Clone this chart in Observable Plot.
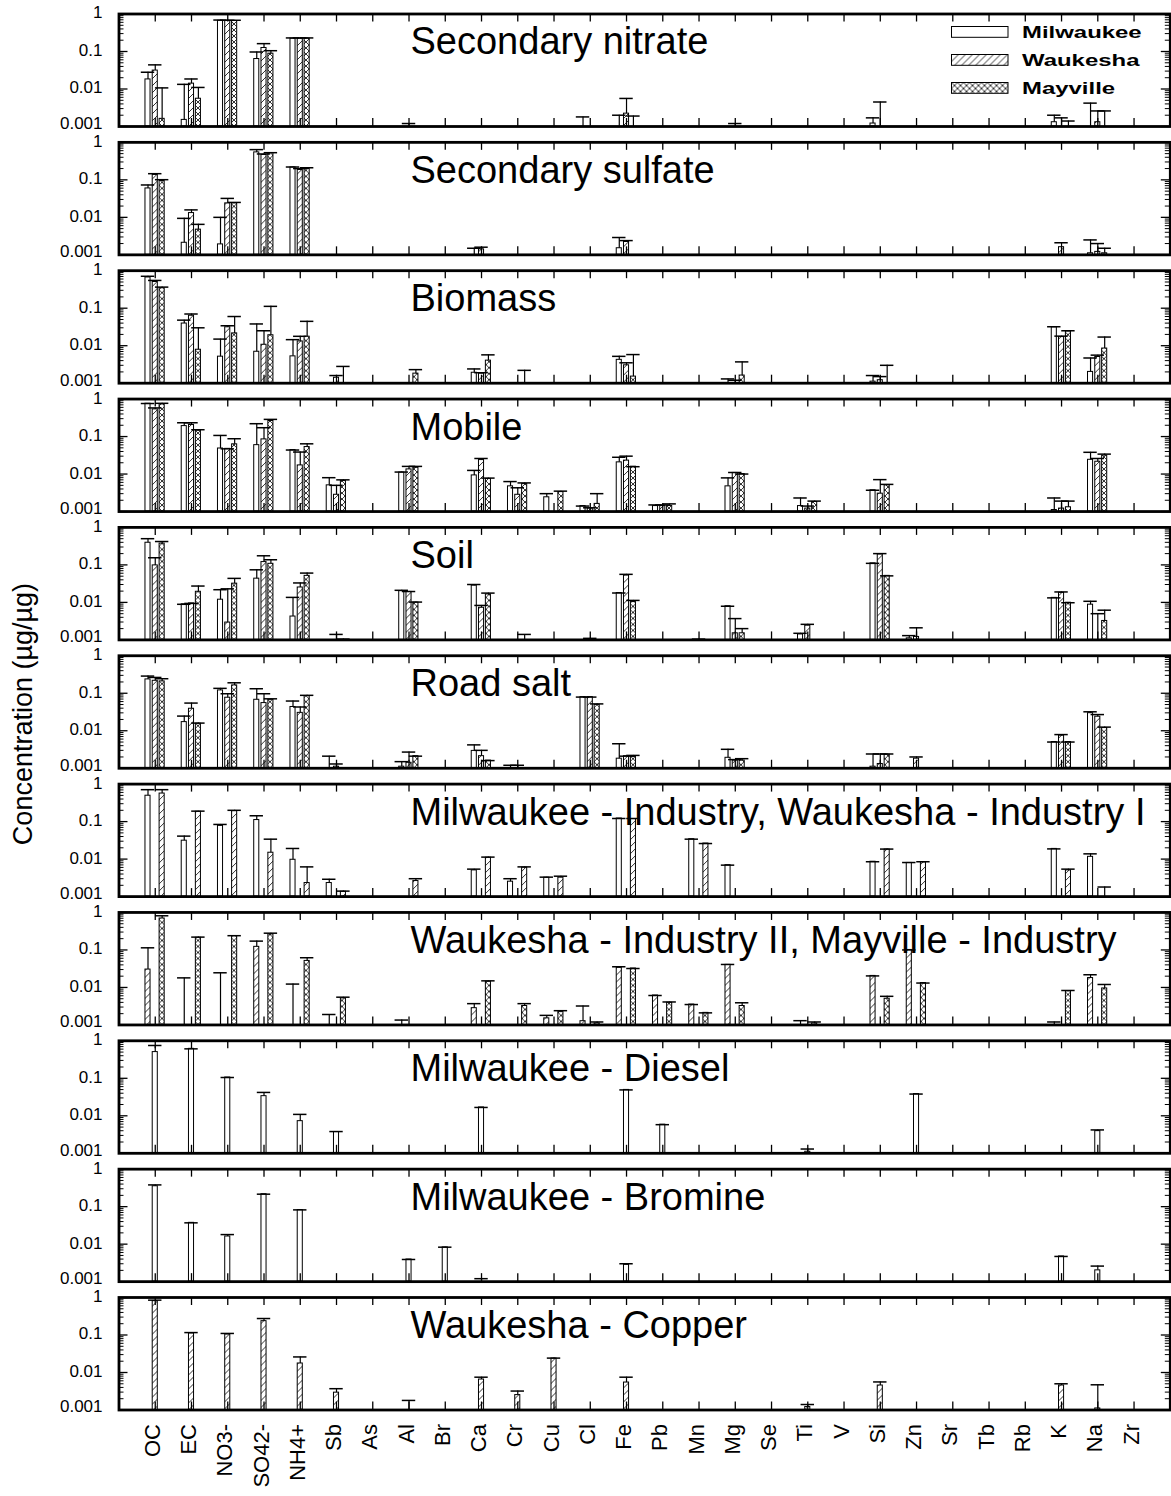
<!DOCTYPE html>
<html>
<head>
<meta charset="utf-8">
<script src="https://cdn.jsdelivr.net/npm/d3@7"></script>
<script src="https://cdn.jsdelivr.net/npm/@observablehq/plot@0.6"></script>
<style>
  html, body { margin: 0; padding: 0; background: #fff; overflow: hidden; }
  #chart { width: 1171px; height: 1496px; }
</style>
</head>
<body>
<div id="chart"></div>
<script>
// Species on the x axis
const categories = ["OC", "EC", "NO3-", "SO42-", "NH4+", "Sb", "As", "Al", "Br", "Ca", "Cr", "Cu", "Cl", "Fe",
  "Pb", "Mn", "Mg", "Se", "Ti", "V", "Si", "Zn", "Sr", "Tb", "Rb", "K", "Na", "Zr"];

// Sampling sites
const sites = ["Milwaukee", "Waukesha", "Mayville"];

// Log-axis decades
const majorTicks = [0.001, 0.01, 0.1, 1];

// Factor profiles: [species, site, mean fraction, mean + uncertainty]
const secondaryNitrate = [
  ["OC", "Milwaukee", 0.018, 0.028], ["OC", "Waukesha", 0.031, 0.044], ["OC", "Mayville", 0.0016, 0.0107],
  ["EC", "Milwaukee", 0.0015, 0.0133], ["EC", "Waukesha", 0.0139, 0.0185], ["EC", "Mayville", 0.0055, 0.011],
  ["NO3-", "Milwaukee", 0.66, 0.69], ["NO3-", "Waukesha", 0.65, 0.68], ["NO3-", "Mayville", 0.65, 0.68],
  ["SO42-", "Milwaukee", 0.063, 0.097], ["SO42-", "Waukesha", 0.124, 0.162], ["SO42-", "Mayville", 0.0875, 0.105],
  ["NH4+", "Milwaukee", 0.22, 0.23], ["NH4+", "Waukesha", 0.22, 0.23], ["NH4+", "Mayville", 0.22, 0.23],
  ["Al", "Waukesha", 0.001, 0.0012],
  ["Cl", "Milwaukee", 0.001, 0.0018],
  ["Fe", "Milwaukee", 0.001, 0.002], ["Fe", "Waukesha", 0.0022, 0.0056], ["Fe", "Mayville", 0.001, 0.0019],
  ["Mg", "Waukesha", 0.001, 0.0012],
  ["Si", "Milwaukee", 0.0012, 0.0017], ["Si", "Waukesha", 0.001, 0.0045],
  ["K", "Milwaukee", 0.0013, 0.002], ["K", "Waukesha", 0.001, 0.0017], ["K", "Mayville", 0.001, 0.0014],
  ["Na", "Milwaukee", 0.001, 0.0042], ["Na", "Waukesha", 0.0013, 0.0026], ["Na", "Mayville", 0.001, 0.0026]
];

const secondarySulfate = [
  ["OC", "Milwaukee", 0.059, 0.073], ["OC", "Waukesha", 0.135, 0.146], ["OC", "Mayville", 0.093, 0.101],
  ["EC", "Milwaukee", 0.0021, 0.0094], ["EC", "Waukesha", 0.013, 0.0158], ["EC", "Mayville", 0.0047, 0.0065],
  ["NO3-", "Milwaukee", 0.0019, 0.01], ["NO3-", "Waukesha", 0.0236, 0.032], ["NO3-", "Mayville", 0.0236, 0.025],
  ["SO42-", "Milwaukee", 0.54, 0.64], ["SO42-", "Waukesha", 0.46, 0.49], ["SO42-", "Mayville", 0.52, 0.53],
  ["NH4+", "Milwaukee", 0.215, 0.22], ["NH4+", "Waukesha", 0.183, 0.2], ["NH4+", "Mayville", 0.195, 0.21],
  ["Ca", "Milwaukee", 0.001, 0.0015], ["Ca", "Waukesha", 0.0014, 0.0016],
  ["Fe", "Milwaukee", 0.0015, 0.0029], ["Fe", "Waukesha", 0.0022, 0.0024],
  ["K", "Waukesha", 0.0016, 0.0021],
  ["Na", "Milwaukee", 0.0011, 0.0025], ["Na", "Waukesha", 0.0012, 0.002], ["Na", "Mayville", 0.0011, 0.0015]
];

const biomass = [
  ["OC", "Milwaukee", 0.66, 0.71], ["OC", "Waukesha", 0.5, 0.55], ["OC", "Mayville", 0.34, 0.365],
  ["EC", "Milwaukee", 0.039, 0.048], ["EC", "Waukesha", 0.063, 0.07], ["EC", "Mayville", 0.0078, 0.03],
  ["NO3-", "Milwaukee", 0.0051, 0.015], ["NO3-", "Waukesha", 0.031, 0.034], ["NO3-", "Mayville", 0.0213, 0.06],
  ["SO42-", "Milwaukee", 0.0069, 0.038], ["SO42-", "Waukesha", 0.0106, 0.025], ["SO42-", "Mayville", 0.019, 0.112],
  ["NH4+", "Milwaukee", 0.0052, 0.0145], ["NH4+", "Waukesha", 0.013, 0.0178], ["NH4+", "Mayville", 0.0174, 0.0446],
  ["Sb", "Waukesha", 0.0014, 0.0016], ["Sb", "Mayville", 0.001, 0.0028],
  ["Al", "Mayville", 0.0018, 0.0023],
  ["Ca", "Milwaukee", 0.0019, 0.0024], ["Ca", "Waukesha", 0.0018, 0.0019], ["Ca", "Mayville", 0.004, 0.0057],
  ["Cr", "Mayville", 0.001, 0.0022],
  ["Fe", "Milwaukee", 0.0042, 0.0052], ["Fe", "Waukesha", 0.003, 0.0035], ["Fe", "Mayville", 0.0015, 0.0058],
  ["Mg", "Milwaukee", 0.001, 0.0013], ["Mg", "Waukesha", 0.001, 0.0012], ["Mg", "Mayville", 0.0016, 0.0037],
  ["Si", "Milwaukee", 0.0011, 0.0016], ["Si", "Waukesha", 0.0012, 0.0015], ["Si", "Mayville", 0.001, 0.003],
  ["K", "Milwaukee", 0.031, 0.032], ["K", "Waukesha", 0.017, 0.018], ["K", "Mayville", 0.024, 0.025],
  ["Na", "Milwaukee", 0.002, 0.0047], ["Na", "Waukesha", 0.005, 0.0056], ["Na", "Mayville", 0.0084, 0.017]
];

const mobile = [
  ["OC", "Milwaukee", 0.75, 0.76], ["OC", "Waukesha", 0.53, 0.58], ["OC", "Mayville", 0.72, 0.77],
  ["EC", "Milwaukee", 0.19, 0.233], ["EC", "Waukesha", 0.203, 0.233], ["EC", "Mayville", 0.143, 0.152],
  ["NO3-", "Milwaukee", 0.048, 0.107], ["NO3-", "Waukesha", 0.047, 0.047], ["NO3-", "Mayville", 0.062, 0.0875],
  ["SO42-", "Milwaukee", 0.059, 0.22], ["SO42-", "Waukesha", 0.084, 0.172], ["SO42-", "Mayville", 0.26, 0.287],
  ["NH4+", "Milwaukee", 0.0437, 0.0437], ["NH4+", "Waukesha", 0.017, 0.0386], ["NH4+", "Mayville", 0.0525, 0.064],
  ["Sb", "Milwaukee", 0.005, 0.008], ["Sb", "Waukesha", 0.0028, 0.005], ["Sb", "Mayville", 0.0065, 0.007],
  ["Al", "Milwaukee", 0.011, 0.0113], ["Al", "Waukesha", 0.0133, 0.016], ["Al", "Mayville", 0.0147, 0.016],
  ["Ca", "Milwaukee", 0.0092, 0.0125], ["Ca", "Waukesha", 0.0236, 0.026], ["Ca", "Mayville", 0.0074, 0.0078],
  ["Cr", "Milwaukee", 0.0047, 0.0063], ["Cr", "Waukesha", 0.0028, 0.0043], ["Cr", "Mayville", 0.0054, 0.0058],
  ["Cu", "Milwaukee", 0.0024, 0.003], ["Cu", "Mayville", 0.0033, 0.0035],
  ["Cl", "Milwaukee", 0.0014, 0.0014], ["Cl", "Waukesha", 0.0012, 0.00126], ["Cl", "Mayville", 0.0016, 0.003],
  ["Fe", "Milwaukee", 0.0205, 0.028], ["Fe", "Waukesha", 0.0228, 0.03], ["Fe", "Mayville", 0.0157, 0.0157],
  ["Pb", "Milwaukee", 0.0014, 0.0015], ["Pb", "Waukesha", 0.0014, 0.0015], ["Pb", "Mayville", 0.0014, 0.0016],
  ["Mg", "Milwaukee", 0.0047, 0.0079], ["Mg", "Waukesha", 0.0107, 0.011], ["Mg", "Mayville", 0.01, 0.01],
  ["Ti", "Milwaukee", 0.0014, 0.0023], ["Ti", "Waukesha", 0.0012, 0.0014], ["Ti", "Mayville", 0.0018, 0.0019],
  ["Si", "Milwaukee", 0.0037, 0.0037], ["Si", "Waukesha", 0.003, 0.0071], ["Si", "Mayville", 0.005, 0.0053],
  ["K", "Milwaukee", 0.0011, 0.0023], ["K", "Waukesha", 0.0012, 0.0019], ["K", "Mayville", 0.0013, 0.0019],
  ["Na", "Milwaukee", 0.024, 0.038], ["Na", "Waukesha", 0.0213, 0.026], ["Na", "Mayville", 0.031, 0.034]
];

const soil = [
  ["OC", "Milwaukee", 0.39, 0.5], ["OC", "Waukesha", 0.097, 0.155], ["OC", "Mayville", 0.37, 0.42],
  ["EC", "Milwaukee", 0.0089, 0.0089], ["EC", "Waukesha", 0.0094, 0.0094], ["EC", "Mayville", 0.0192, 0.0273],
  ["NO3-", "Milwaukee", 0.0118, 0.0218], ["NO3-", "Waukesha", 0.0029, 0.023], ["NO3-", "Mayville", 0.0316, 0.0437],
  ["SO42-", "Milwaukee", 0.043, 0.074], ["SO42-", "Waukesha", 0.119, 0.175], ["SO42-", "Mayville", 0.107, 0.137],
  ["NH4+", "Milwaukee", 0.0042, 0.0136], ["NH4+", "Waukesha", 0.025, 0.033], ["NH4+", "Mayville", 0.051, 0.0605],
  ["Sb", "Waukesha", 0.001, 0.0014], ["Sb", "Mayville", 0.001, 0.00105],
  ["Al", "Milwaukee", 0.02, 0.021], ["Al", "Waukesha", 0.019, 0.0195], ["Al", "Mayville", 0.0099, 0.0102],
  ["Ca", "Milwaukee", 0.028, 0.03], ["Ca", "Waukesha", 0.0072, 0.0083], ["Ca", "Mayville", 0.0163, 0.0177],
  ["Cr", "Mayville", 0.001, 0.0014],
  ["Cl", "Waukesha", 0.001, 0.0011],
  ["Fe", "Milwaukee", 0.0178, 0.0178], ["Fe", "Waukesha", 0.052, 0.056], ["Fe", "Mayville", 0.0102, 0.0113],
  ["Mn", "Waukesha", 0.001, 0.00105],
  ["Mg", "Milwaukee", 0.0079, 0.0079], ["Mg", "Waukesha", 0.0015, 0.0037], ["Mg", "Mayville", 0.0015, 0.002],
  ["Ti", "Milwaukee", 0.0014, 0.0015], ["Ti", "Waukesha", 0.0024, 0.0026],
  ["Si", "Milwaukee", 0.11, 0.11], ["Si", "Waukesha", 0.19, 0.2], ["Si", "Mayville", 0.051, 0.051],
  ["Zn", "Milwaukee", 0.0011, 0.0013], ["Zn", "Waukesha", 0.0012, 0.0021],
  ["K", "Milwaukee", 0.0132, 0.0132], ["K", "Waukesha", 0.018, 0.019], ["K", "Mayville", 0.0098, 0.0098],
  ["Na", "Milwaukee", 0.0087, 0.0107], ["Na", "Waukesha", 0.001, 0.005], ["Na", "Mayville", 0.0032, 0.0062]
];

const roadSalt = [
  ["OC", "Milwaukee", 0.234, 0.287], ["OC", "Waukesha", 0.215, 0.264], ["OC", "Mayville", 0.207, 0.244],
  ["EC", "Milwaukee", 0.017, 0.0246], ["EC", "Waukesha", 0.0386, 0.0547], ["EC", "Mayville", 0.0154, 0.016],
  ["NO3-", "Milwaukee", 0.119, 0.135], ["NO3-", "Waukesha", 0.076, 0.097], ["NO3-", "Mayville", 0.162, 0.19],
  ["SO42-", "Milwaukee", 0.067, 0.132], ["SO42-", "Waukesha", 0.0547, 0.097], ["SO42-", "Mayville", 0.067, 0.071],
  ["NH4+", "Milwaukee", 0.043, 0.062], ["NH4+", "Waukesha", 0.03, 0.043], ["NH4+", "Mayville", 0.084, 0.088],
  ["Sb", "Milwaukee", 0.001, 0.0021], ["Sb", "Waukesha", 0.0011, 0.0013],
  ["Al", "Milwaukee", 0.0011, 0.0015], ["Al", "Waukesha", 0.0014, 0.0027], ["Al", "Mayville", 0.0021, 0.0021],
  ["Ca", "Milwaukee", 0.0029, 0.0042], ["Ca", "Waukesha", 0.0021, 0.003], ["Ca", "Mayville", 0.0016, 0.0016],
  ["Cr", "Milwaukee", 0.001, 0.0012], ["Cr", "Waukesha", 0.001, 0.0012],
  ["Cl", "Milwaukee", 0.079, 0.079], ["Cl", "Waukesha", 0.079, 0.079], ["Cl", "Mayville", 0.049, 0.052],
  ["Fe", "Milwaukee", 0.0018, 0.0045], ["Fe", "Waukesha", 0.0021, 0.0021], ["Fe", "Mayville", 0.002, 0.0022],
  ["Mg", "Milwaukee", 0.0019, 0.0032], ["Mg", "Waukesha", 0.0016, 0.0017], ["Mg", "Mayville", 0.0016, 0.0018],
  ["Si", "Milwaukee", 0.0011, 0.0024], ["Si", "Waukesha", 0.0013, 0.0024], ["Si", "Mayville", 0.0023, 0.0024],
  ["Zn", "Waukesha", 0.0018, 0.002],
  ["K", "Milwaukee", 0.005, 0.005], ["K", "Waukesha", 0.0074, 0.0079], ["K", "Mayville", 0.005, 0.005],
  ["Na", "Milwaukee", 0.0294, 0.032], ["Na", "Waukesha", 0.0237, 0.027], ["Na", "Mayville", 0.0118, 0.0125]
];

const industryOne = [
  ["OC", "Milwaukee", 0.49, 0.71], ["OC", "Waukesha", 0.56, 0.71],
  ["EC", "Milwaukee", 0.031, 0.041], ["EC", "Waukesha", 0.183, 0.19],
  ["NO3-", "Milwaukee", 0.077, 0.084], ["NO3-", "Waukesha", 0.19, 0.2],
  ["SO42-", "Milwaukee", 0.11, 0.143], ["SO42-", "Waukesha", 0.0148, 0.034],
  ["NH4+", "Milwaukee", 0.0096, 0.0192], ["NH4+", "Waukesha", 0.0023, 0.0062],
  ["Sb", "Milwaukee", 0.0023, 0.0029], ["Sb", "Waukesha", 0.00135, 0.0014],
  ["Al", "Waukesha", 0.0026, 0.003],
  ["Ca", "Milwaukee", 0.005, 0.0054], ["Ca", "Waukesha", 0.0109, 0.0113],
  ["Cr", "Milwaukee", 0.0025, 0.003], ["Cr", "Waukesha", 0.0059, 0.0062],
  ["Cu", "Milwaukee", 0.0032, 0.0033], ["Cu", "Waukesha", 0.0032, 0.0035],
  ["Fe", "Milwaukee", 0.121, 0.121], ["Fe", "Waukesha", 0.117, 0.121],
  ["Mn", "Milwaukee", 0.034, 0.034], ["Mn", "Waukesha", 0.026, 0.026],
  ["Mg", "Milwaukee", 0.0069, 0.0069],
  ["Si", "Milwaukee", 0.0085, 0.0085], ["Si", "Waukesha", 0.018, 0.0185],
  ["Zn", "Milwaukee", 0.0079, 0.0081], ["Zn", "Waukesha", 0.0082, 0.0085],
  ["K", "Milwaukee", 0.0187, 0.0187], ["K", "Waukesha", 0.005, 0.0054],
  ["Na", "Milwaukee", 0.0115, 0.0138], ["Na", "Waukesha", 0.001, 0.0018]
];

const industryTwo = [
  ["OC", "Waukesha", 0.03, 0.114], ["OC", "Mayville", 0.69, 0.815],
  ["EC", "Waukesha", 0.001, 0.018], ["EC", "Mayville", 0.211, 0.22],
  ["NO3-", "Waukesha", 0.001, 0.0246], ["NO3-", "Mayville", 0.234, 0.24],
  ["SO42-", "Waukesha", 0.121, 0.172], ["SO42-", "Mayville", 0.26, 0.28],
  ["NH4+", "Waukesha", 0.001, 0.0123], ["NH4+", "Mayville", 0.051, 0.062],
  ["Sb", "Waukesha", 0.001, 0.0019], ["Sb", "Mayville", 0.0051, 0.0055],
  ["Al", "Waukesha", 0.001, 0.00135],
  ["Ca", "Waukesha", 0.0028, 0.0037], ["Ca", "Mayville", 0.0142, 0.015],
  ["Cr", "Mayville", 0.0032, 0.0037],
  ["Cu", "Waukesha", 0.0015, 0.0018], ["Cu", "Mayville", 0.0022, 0.0024],
  ["Cl", "Waukesha", 0.00126, 0.0032], ["Cl", "Mayville", 0.0011, 0.0012],
  ["Fe", "Waukesha", 0.0334, 0.0356], ["Fe", "Mayville", 0.032, 0.032],
  ["Pb", "Waukesha", 0.0061, 0.0061], ["Pb", "Mayville", 0.0039, 0.0041],
  ["Mn", "Waukesha", 0.0035, 0.0035], ["Mn", "Mayville", 0.0021, 0.0021],
  ["Mg", "Waukesha", 0.04, 0.041], ["Mg", "Mayville", 0.0032, 0.0039],
  ["Ti", "Waukesha", 0.001, 0.0013], ["Ti", "Mayville", 0.0011, 0.0012],
  ["Si", "Waukesha", 0.0203, 0.0203], ["Si", "Mayville", 0.005, 0.0058],
  ["Zn", "Waukesha", 0.1, 0.1], ["Zn", "Mayville", 0.0131, 0.0131],
  ["K", "Waukesha", 0.001, 0.0012], ["K", "Mayville", 0.0079, 0.0083],
  ["Na", "Waukesha", 0.0178, 0.0218], ["Na", "Mayville", 0.0094, 0.012]
];

const diesel = [
  ["OC", "Milwaukee", 0.5, 0.75], ["EC", "Milwaukee", 0.61, 0.61], ["NO3-", "Milwaukee", 0.105, 0.105],
  ["SO42-", "Milwaukee", 0.0334, 0.042], ["NH4+", "Milwaukee", 0.0072, 0.0109], ["Sb", "Milwaukee", 0.0037, 0.0038],
  ["Ca", "Milwaukee", 0.0167, 0.0167], ["Fe", "Milwaukee", 0.049, 0.049], ["Pb", "Milwaukee", 0.0058, 0.0058],
  ["Ti", "Milwaukee", 0.0011, 0.0013], ["Zn", "Milwaukee", 0.038, 0.038], ["Na", "Milwaukee", 0.0039, 0.0042]
];

const bromine = [
  ["OC", "Milwaukee", 0.35, 0.38], ["EC", "Milwaukee", 0.037, 0.037], ["NO3-", "Milwaukee", 0.016, 0.018],
  ["SO42-", "Milwaukee", 0.215, 0.215], ["NH4+", "Milwaukee", 0.081, 0.082], ["Al", "Milwaukee", 0.0039, 0.0039],
  ["Br", "Milwaukee", 0.0082, 0.0083], ["Ca", "Milwaukee", 0.001, 0.0012], ["Fe", "Milwaukee", 0.0028, 0.003],
  ["K", "Milwaukee", 0.0047, 0.0047], ["Na", "Milwaukee", 0.002, 0.0026]
];

const copper = [
  ["OC", "Waukesha", 0.8, 0.85], ["EC", "Waukesha", 0.11, 0.116], ["NO3-", "Waukesha", 0.103, 0.11],
  ["SO42-", "Waukesha", 0.234, 0.275], ["NH4+", "Waukesha", 0.0174, 0.026], ["Sb", "Waukesha", 0.0029, 0.0037],
  ["Al", "Waukesha", 0.001, 0.0018], ["Ca", "Waukesha", 0.0065, 0.0075], ["Cr", "Waukesha", 0.0025, 0.0032],
  ["Cu", "Waukesha", 0.0236, 0.0242], ["Fe", "Waukesha", 0.0054, 0.0075], ["Ti", "Waukesha", 0.0012, 0.0014],
  ["Si", "Waukesha", 0.0045, 0.0056], ["K", "Waukesha", 0.0045, 0.005], ["Na", "Waukesha", 0.0011, 0.0047]
];

// Panels, top to bottom, with the sites each factor was resolved at
const panels = [
  {title: "Secondary nitrate", sites: sites, rows: secondaryNitrate},
  {title: "Secondary sulfate", sites: sites, rows: secondarySulfate},
  {title: "Biomass", sites: sites, rows: biomass},
  {title: "Mobile", sites: sites, rows: mobile},
  {title: "Soil", sites: sites, rows: soil},
  {title: "Road salt", sites: sites, rows: roadSalt},
  {title: "Milwaukee - Industry, Waukesha - Industry I", sites: ["Milwaukee", "Waukesha"], rows: industryOne},
  {title: "Waukesha - Industry II, Mayville - Industry", sites: ["Waukesha", "Mayville"], rows: industryTwo},
  {title: "Milwaukee - Diesel", sites: ["Milwaukee"], rows: diesel},
  {title: "Milwaukee - Bromine", sites: ["Milwaukee"], rows: bromine},
  {title: "Waukesha - Copper", sites: ["Waukesha"], rows: copper}
];

// ---- layout ----
const W = 1171, H = 1496;
const mL = 118.5, mR = 1.2, mT = 13.5, mB = 86.5;
const frameW = W - mL - mR;
const panelH = 112.5;
const floor = majorTicks[0];
const barHalf = 0.07;      // half bar width, in category units
const capHalf = 0.185;     // half error-cap width, in category units
const slotOffsets = {1: [0], 2: [-0.2, 0.19], 3: [-0.2, 0, 0.19]};
const fills = {Milwaukee: "white", Waukesha: "url(#hatch-waukesha)", Mayville: "url(#hatch-mayville)"};
const fontFamily = "'Liberation Sans', Arial, Helvetica, sans-serif";

const records = panels.flatMap(p => p.rows.map(([category, site, value, upper]) => ({
  panel: p.title,
  site,
  category,
  pos: categories.indexOf(category) + slotOffsets[p.sites.length][p.sites.indexOf(site)],
  value,
  upper
})));

const catIndex = d3.range(categories.length);
const minorTicks = majorTicks.slice(0, -1).flatMap(k => d3.range(2, 10).map(m => k * m));

const chart = Plot.plot({
  width: W,
  height: H,
  marginLeft: mL,
  marginRight: mR,
  marginTop: mT,
  marginBottom: mB,
  style: {fontFamily, color: "black", background: "white", overflow: "hidden"},
  x: {domain: [-1, categories.length], axis: null},
  y: {type: "log", domain: [floor, 1], clamp: true, axis: null},
  fy: {domain: panels.map(p => p.title), paddingInner: 0.1235, paddingOuter: 0, round: false, axis: null, label: null},
  marks: [
    // bars, one mark per site so each keeps its own fill
    ...sites.map(s => Plot.rect(records.filter(d => d.site === s && d.value > floor), {
      x1: d => d.pos - barHalf,
      x2: d => d.pos + barHalf,
      y1: floor,
      y2: "value",
      fy: "panel",
      fill: fills[s],
      stroke: "black",
      strokeWidth: 1
    })),
    // upper uncertainty: stem and cap
    Plot.ruleX(records, {x: "pos", y1: "value", y2: "upper", fy: "panel", stroke: "black", strokeWidth: 1.2}),
    Plot.ruleY(records, {y: "upper", x1: d => d.pos - capHalf, x2: d => d.pos + capHalf, fy: "panel", stroke: "black", strokeWidth: 1.5}),
    // inward category ticks on the bottom and top edges
    Plot.tickX(catIndex, {x: d => d, insetTop: panelH - 8, stroke: "black", strokeWidth: 1.3}),
    Plot.tickX(catIndex, {x: d => d, insetBottom: panelH - 8, stroke: "black", strokeWidth: 1.3}),
    // inward log ticks on the left and right edges
    Plot.tickY(minorTicks, {y: d => d, insetRight: frameW - 5, stroke: "black", strokeWidth: 1}),
    Plot.tickY(majorTicks, {y: d => d, insetRight: frameW - 9, stroke: "black", strokeWidth: 1.3}),
    Plot.tickY(minorTicks, {y: d => d, insetLeft: frameW - 5, stroke: "black", strokeWidth: 1}),
    Plot.tickY(majorTicks, {y: d => d, insetLeft: frameW - 9, stroke: "black", strokeWidth: 1.3}),
    Plot.frame({stroke: "black", strokeWidth: 2.8}),
    // factor names
    Plot.text(panels, {
      fy: d => d.title,
      text: d => d.title,
      frameAnchor: "top-left",
      textAnchor: "start",
      lineAnchor: "top",
      dx: 291.5,
      dy: 13.5,
      fontSize: 38,
      fill: "black"
    }),
    // decade labels: the bottom one nudged up, the others down, so neighbours do not collide
    Plot.axisY({
      anchor: "left",
      ticks: majorTicks.slice(1),
      tickFormat: d => String(d),
      tickSize: 0,
      tickPadding: 16.5,
      fontSize: 17,
      dy: -1,
      label: null
    }),
    Plot.axisY({
      anchor: "left",
      ticks: majorTicks.slice(0, 1),
      tickFormat: d => String(d),
      tickSize: 0,
      tickPadding: 16.5,
      fontSize: 17,
      dy: -3,
      label: null
    }),
    Plot.axisX({
      anchor: "bottom",
      ticks: catIndex,
      tickFormat: i => categories[i],
      tickSize: 0,
      tickPadding: 14,
      tickRotate: -90,
      fontSize: 22,
      dx: -2.5,
      label: null
    })
  ]
});

// hatch patterns for the site fills
const svg = d3.select(chart);
const defs = svg.insert("defs", ":first-child");
const diag = defs.append("pattern").attr("id", "hatch-waukesha")
  .attr("patternUnits", "userSpaceOnUse").attr("width", 7).attr("height", 7);
diag.append("rect").attr("width", 7).attr("height", 7).attr("fill", "white");
diag.append("path").attr("d", "M-1,1 L1,-1 M0,7 L7,0 M6,8 L8,6")
  .attr("stroke", "black").attr("stroke-width", 0.8);
const cross = defs.append("pattern").attr("id", "hatch-mayville")
  .attr("patternUnits", "userSpaceOnUse").attr("width", 6).attr("height", 6);
cross.append("rect").attr("width", 6).attr("height", 6).attr("fill", "white");
cross.append("path").attr("d", "M-1,1 L1,-1 M0,6 L6,0 M5,7 L7,5 M-1,5 L1,7 M0,0 L6,6 M5,-1 L7,1")
  .attr("stroke", "black").attr("stroke-width", 0.8);

// y-axis title
svg.append("text")
  .attr("transform", "translate(31.5,714) rotate(-90)")
  .attr("text-anchor", "middle")
  .attr("font-size", 27)
  .attr("font-family", fontFamily)
  .attr("fill", "black")
  .text("Concentration (µg/µg)");

// site legend in the top panel
const legend = svg.append("g").attr("transform", "translate(951.5,26.5)");
sites.forEach((s, k) => {
  const row = legend.append("g").attr("transform", `translate(0,${k * 28})`);
  row.append("rect").attr("width", 56.5).attr("height", 10.8)
    .attr("fill", fills[s]).attr("stroke", "black").attr("stroke-width", 1);
  row.append("text")
    .attr("transform", "translate(70.5,11) scale(1.45,1)")
    .attr("text-anchor", "start")
    .attr("font-size", 16.5)
    .attr("font-weight", "bold")
    .attr("font-family", fontFamily)
    .attr("fill", "black")
    .text(s);
});

document.getElementById("chart").appendChild(chart);
</script>
</body>
</html>
